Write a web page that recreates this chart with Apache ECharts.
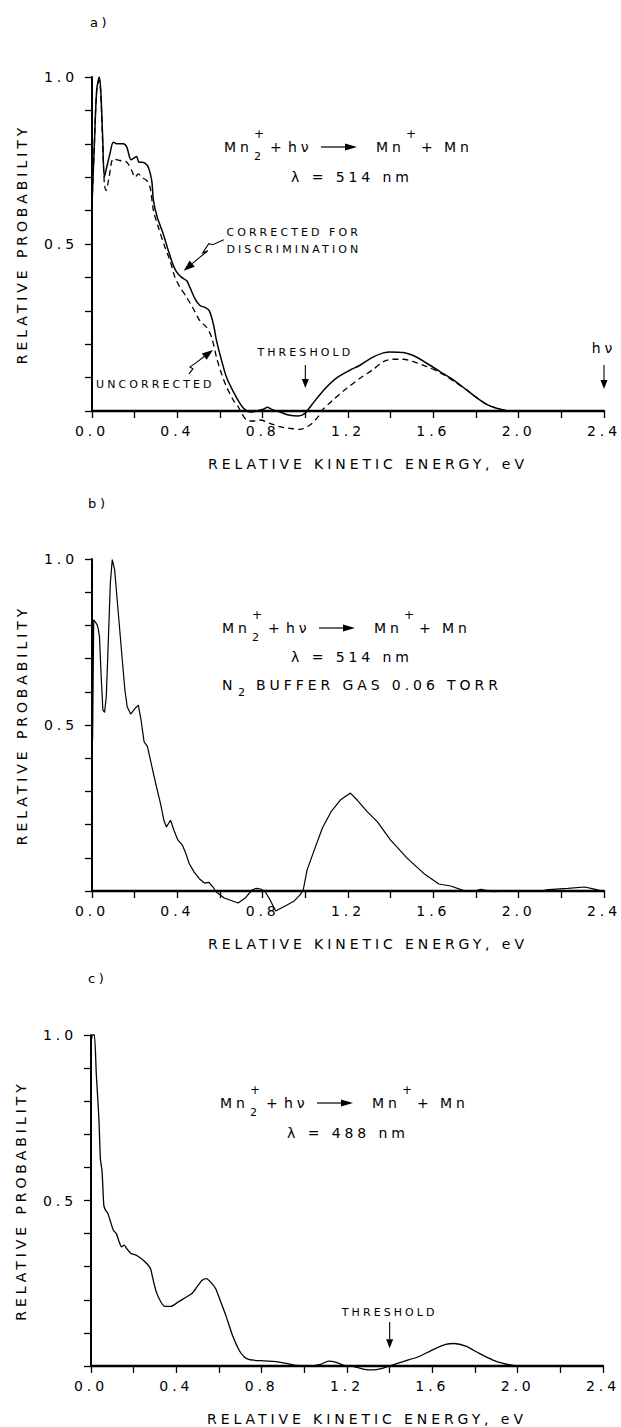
<!DOCTYPE html>
<html><head><meta charset="utf-8">
<script src="https://cdn.jsdelivr.net/npm/echarts/dist/echarts.min.js"></script>
<style>
html,body{margin:0;padding:0;background:#fff;}
#c{width:621px;height:1427px;}
#c svg text{letter-spacing:0.28em !important;}
</style></head><body><div id="c"></div>
<script>
// ---------- data ----------
// panel a : corrected (solid) and uncorrected (dashed)
const aEnergyCorr = [0.0,0.01,0.022,0.034,0.041,0.05,0.058,0.069,0.084,0.1,0.116,0.147,0.163,0.183,0.198,0.209,0.22,0.233,0.248,0.264,0.28,0.288,0.306,0.334,0.358,0.381,0.397,0.42,0.444,0.459,0.483,0.506,0.53,0.55,0.569,0.584,0.608,0.631,0.663,0.694,0.717,0.741,0.772,0.803,0.822,0.842,0.881,0.928,0.967,0.999,1.014,1.053,1.1,1.147,1.209,1.256,1.319,1.366,1.397,1.459,1.506,1.569,1.631,1.694,1.756,1.803,1.85,1.897,1.944,1.97];
const aCorrected = [0.62,0.78,0.96,1.0,0.96,0.82,0.70,0.73,0.77,0.805,0.80,0.80,0.79,0.752,0.758,0.762,0.745,0.745,0.742,0.73,0.69,0.63,0.58,0.53,0.48,0.436,0.416,0.40,0.39,0.37,0.336,0.316,0.31,0.30,0.26,0.21,0.15,0.10,0.057,0.022,0.004,-0.003,0.0,0.005,0.011,0.005,-0.003,-0.013,-0.015,-0.007,0.005,0.037,0.072,0.099,0.122,0.137,0.162,0.174,0.177,0.175,0.166,0.143,0.118,0.093,0.063,0.04,0.02,0.008,0.001,0.0];
const aEnergyUncorr = [0.0,0.01,0.022,0.034,0.041,0.05,0.058,0.066,0.08,0.1,0.131,0.163,0.186,0.202,0.217,0.233,0.256,0.272,0.288,0.311,0.342,0.366,0.389,0.413,0.444,0.475,0.506,0.538,0.561,0.584,0.608,0.631,0.663,0.686,0.702,0.725,0.756,0.788,0.834,0.881,0.928,0.975,1.022,1.06,1.075,1.13,1.194,1.256,1.319,1.366,1.412,1.459,1.506,1.569,1.631,1.694,1.756,1.803,1.85,1.897,1.944];
const aUncorrected = [0.62,0.78,0.96,0.99,0.95,0.80,0.68,0.66,0.70,0.755,0.75,0.745,0.72,0.70,0.71,0.70,0.69,0.67,0.60,0.55,0.49,0.45,0.40,0.37,0.34,0.306,0.27,0.25,0.22,0.16,0.11,0.072,0.032,0.012,-0.008,-0.027,-0.03,-0.027,-0.037,-0.047,-0.052,-0.055,-0.042,-0.017,0.0,0.033,0.068,0.098,0.125,0.148,0.155,0.155,0.148,0.133,0.115,0.09,0.063,0.04,0.02,0.008,0.001];
// panel b : N2 buffer gas
const bEnergy = [0.0,0.003,0.008,0.019,0.025,0.029,0.035,0.043,0.051,0.059,0.067,0.075,0.086,0.095,0.106,0.122,0.138,0.154,0.165,0.181,0.202,0.217,0.23,0.244,0.26,0.281,0.302,0.321,0.337,0.349,0.368,0.384,0.403,0.424,0.44,0.456,0.479,0.503,0.527,0.548,0.567,0.583,0.62,0.685,0.72,0.75,0.77,0.79,0.81,0.835,0.861,0.885,0.914,0.948,0.977,0.99,1.008,1.04,1.08,1.12,1.164,1.211,1.243,1.29,1.337,1.399,1.477,1.555,1.626,1.681,1.743,1.79,1.822,1.853,1.884,1.95,2.1,2.14,2.23,2.31,2.36,2.39];
const bProb = [0.44,0.46,0.817,0.807,0.80,0.79,0.767,0.646,0.545,0.538,0.586,0.726,0.928,0.998,0.968,0.847,0.726,0.606,0.555,0.533,0.55,0.56,0.515,0.45,0.435,0.374,0.314,0.264,0.213,0.193,0.213,0.183,0.153,0.138,0.113,0.082,0.057,0.037,0.024,0.026,0.012,-0.003,-0.021,-0.036,-0.02,0.003,0.008,0.006,0.0,-0.027,-0.06,-0.052,-0.042,-0.03,-0.01,0.003,0.063,0.12,0.19,0.238,0.274,0.295,0.274,0.239,0.209,0.154,0.099,0.053,0.021,0.015,0.001,-0.001,0.005,0.001,-0.002,0.0,0.0,0.004,0.008,0.012,0.005,0.0];
// panel c : 488 nm
const cEnergy = [0.0,0.008,0.016,0.025,0.037,0.044,0.052,0.06,0.068,0.079,0.092,0.105,0.119,0.132,0.143,0.156,0.167,0.187,0.211,0.235,0.259,0.279,0.29,0.306,0.327,0.346,0.375,0.41,0.449,0.473,0.497,0.521,0.541,0.56,0.584,0.608,0.632,0.663,0.695,0.719,0.743,0.79,0.83,0.868,0.916,0.963,1.027,1.075,1.114,1.146,1.186,1.233,1.281,1.321,1.36,1.408,1.471,1.535,1.599,1.662,1.702,1.757,1.82,1.884,1.932,1.98,2.05,2.4];
const cProb = [0.98,1.0,1.0,0.88,0.748,0.627,0.587,0.486,0.471,0.461,0.435,0.41,0.40,0.375,0.36,0.365,0.355,0.34,0.335,0.325,0.311,0.294,0.264,0.224,0.194,0.18,0.18,0.194,0.209,0.219,0.239,0.259,0.264,0.254,0.234,0.194,0.153,0.093,0.047,0.027,0.019,0.016,0.015,0.013,0.008,0.002,0.0,0.005,0.015,0.012,0.002,-0.002,-0.01,-0.012,-0.008,0.002,0.015,0.028,0.048,0.065,0.068,0.06,0.038,0.018,0.008,0.002,0.0,0.0];
// axis tick labels
const xTickLabels = ['0.0','0.4','0.8','1.2','1.6','2.0','2.4'];
const yTickLabels = ['0.5','1.0'];
const xTitle = 'RELATIVE KINETIC ENERGY, eV';
const yTitle = 'RELATIVE PROBABILITY';

// ---------- chart ----------
const FONT = 'DejaVu Sans';
const chart = echarts.init(document.getElementById('c'), null, {renderer:'svg', width:621, height:1427});
const zip = (xs, ys) => xs.map((x, i) => [x, ys[i]]);
const grids = [
  {left:92, top:77, width:512, height:334},
  {left:92, top:559, width:512, height:332},
  {left:91, top:1035, width:512, height:331}
];
const lab = (list) => (v) => { const f = list.find(l => Math.abs(parseFloat(l) - v) < 1e-6); return f || ''; };
const xAxes = grids.map((g, i) => ({
  gridIndex:i, type:'value', min:0, max:2.4, interval:0.2,
  axisLine:{onZero:false, lineStyle:{color:'#000', width:2.4}},
  axisTick:{show:true, length:7, lineStyle:{color:'#000', width:1.3}},
  axisLabel:{formatter:lab(xTickLabels), color:'#000', fontSize:14, fontFamily:FONT, margin:13},
  splitLine:{show:false},
  name:xTitle, nameLocation:'middle', nameGap:46,
  nameTextStyle:{color:'#000', fontSize:14, fontFamily:FONT, padding:[0,0,0,40]}
}));
const yAxes = grids.map((g, i) => ({
  gridIndex:i, type:'value', min:0, max:1, interval:0.1,
  axisLine:{show:true, onZero:false, lineStyle:{color:'#000', width:2}},
  axisTick:{show:true, length:7, lineStyle:{color:'#000', width:1.3}},
  axisLabel:{formatter:lab(yTickLabels), color:'#000', fontSize:14, fontFamily:FONT, margin:14},
  splitLine:{show:false},
  name:yTitle, nameLocation:'middle', nameGap:63, nameRotate:90,
  nameTextStyle:{color:'#000', fontSize:14, fontFamily:FONT}
}));
const lineBase = {type:'line', showSymbol:false, clip:false, animation:false};
chart.setOption({
  animation:false,
  backgroundColor:'#fff',
  grid:grids,
  xAxis:xAxes,
  yAxis:yAxes,
  series:[
    Object.assign({}, lineBase, {name:'CORRECTED FOR DISCRIMINATION', xAxisIndex:0, yAxisIndex:0, data:zip(aEnergyCorr, aCorrected), smooth:0.3, lineStyle:{color:'#000', width:1.5}}),
    Object.assign({}, lineBase, {name:'UNCORRECTED', xAxisIndex:0, yAxisIndex:0, data:zip(aEnergyUncorr, aUncorrected), smooth:0.3, lineStyle:{color:'#000', width:1.3, type:[6,4]}}),
    Object.assign({}, lineBase, {name:'N2 buffer gas', xAxisIndex:1, yAxisIndex:1, data:zip(bEnergy, bProb), smooth:false, lineStyle:{color:'#000', width:1.2}}),
    Object.assign({}, lineBase, {name:'488 nm', xAxisIndex:2, yAxisIndex:2, data:zip(cEnergy, cProb), smooth:0.2, lineStyle:{color:'#000', width:1.3}})
  ]
});

// ---------- annotations ----------
const px = (g, x, y) => chart.convertToPixel({gridIndex:g}, [x, y]);
const G = [];
const txt = (t, x, y, size, align, vAlign) => G.push({type:'text', x:x, y:y, silent:true,
  style:{text:t, font:size + 'px "' + FONT + '"', fill:'#000', textAlign:align || 'left', textVerticalAlign:vAlign || 'middle', align:align || 'left', verticalAlign:vAlign || 'middle'}});
const head = (tip, from, L, w) => {
  const dx = tip[0] - from[0], dy = tip[1] - from[1], d = Math.hypot(dx, dy) || 1;
  const ux = dx / d, uy = dy / d, bx = tip[0] - ux * L, by = tip[1] - uy * L;
  G.push({type:'polygon', silent:true, shape:{points:[tip, [bx - uy * w, by + ux * w], [bx + uy * w, by - ux * w]]}, style:{fill:'#000'}});
  return [bx, by];
};
const arrow = (pts, tip, L, w, lw) => {
  const base = head(tip, pts[pts.length - 1], L, w);
  G.push({type:'polyline', silent:true, shape:{points:pts.concat([base])}, style:{stroke:'#000', lineWidth:lw || 1.1, fill:null}});
};
// panel labels
txt('a)', 90, 22, 13); txt('b)', 88, 503, 13); txt('c)', 88, 978, 13);
// reaction equation
function equation(x0, yc){
  txt('Mn', x0, yc, 14);
  txt('2', x0 + 30, yc + 9, 11);
  txt('+', x0 + 30, yc - 13, 12);
  txt('+', x0 + 46, yc, 14);
  txt('h\u03bd', x0 + 64, yc, 14);
  G.push({type:'line', silent:true, shape:{x1:x0 + 97, y1:yc, x2:x0 + 125, y2:yc}, style:{stroke:'#000', lineWidth:1.2}});
  G.push({type:'polygon', silent:true, shape:{points:[[x0 + 121, yc - 3.5], [x0 + 133, yc], [x0 + 121, yc + 3.5]]}, style:{fill:'#000'}});
  txt('Mn', x0 + 152, yc, 14);
  txt('+', x0 + 182, yc - 13, 12);
  txt('+', x0 + 197, yc, 14);
  txt('Mn', x0 + 220, yc, 14);
}
equation(224, 147);
txt('\u03bb = 514 nm', 352, 177, 14, 'center');
equation(222, 628);
txt('\u03bb = 514 nm', 352, 657, 14, 'center');
txt('N', 222, 685, 14);
txt('2', 238, 692, 11);
txt('BUFFER GAS 0.06 TORR', 256, 685, 14);
equation(220, 1103);
txt('\u03bb = 488 nm', 348, 1133, 14, 'center');

// panel a notes
const cf = px(0, 0.63, 0.533), dc = px(0, 0.63, 0.485), un = px(0, 0.019, 0.078);
txt('CORRECTED FOR', cf[0], cf[1], 11);
txt('DISCRIMINATION', dc[0], dc[1], 11);
txt('UNCORRECTED', un[0], un[1], 11);
const t1 = px(0, 0.43, 0.42);
arrow([[t1[0] + 40, t1[1] - 31], [t1[0] + 29, t1[1] - 26], [t1[0] + 25, t1[1] - 27], [t1[0] + 19, t1[1] - 18], [t1[0] + 24, t1[1] - 20]], t1, 11, 4);
const t2 = px(0, 0.567, 0.183);
arrow([[t2[0] - 24, t2[1] + 24], [t2[0] - 20, t2[1] + 19], [t2[0] - 23, t2[1] + 17], [t2[0] - 17, t2[1] + 13]], t2, 11, 4);
// threshold / hv markers
function marker(g, xv, label, yText, yTop, yTip){
  const a = px(g, xv, yText), b = px(g, xv, yTop), c = px(g, xv, yTip);
  txt(label, a[0], a[1], label === 'h\u03bd' ? 14 : 11, 'center');
  arrow([b], c, 9, 3.5);
}
marker(0, 1.0, 'THRESHOLD', 0.174, 0.138, 0.069);
marker(0, 2.4, 'h\u03bd', 0.188, 0.138, 0.066);
marker(2, 1.4, 'THRESHOLD', 0.163, 0.133, 0.054);
chart.setOption({graphic:{elements:G}});
</script></body></html>
